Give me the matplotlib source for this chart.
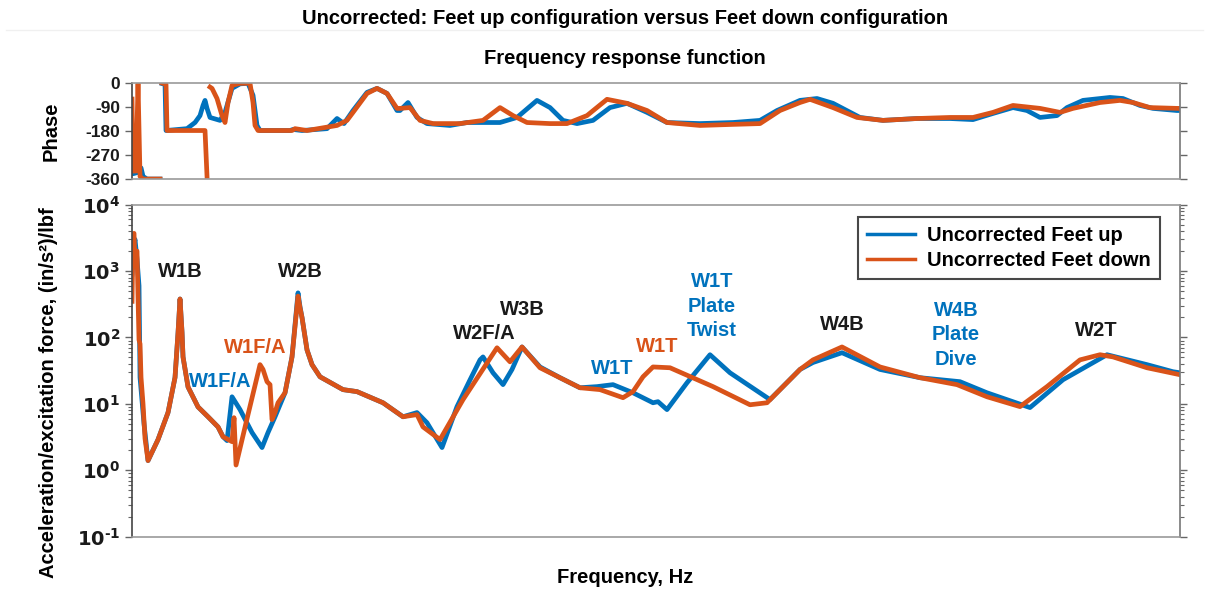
import numpy as np
import matplotlib
matplotlib.use("Agg")
import matplotlib.pyplot as plt
from matplotlib.ticker import FixedLocator, LogLocator, FuncFormatter, NullFormatter

nan = np.nan

# ---------------- data (frequency in arbitrary Hz units) ----------------
# Magnitude, feet up (blue)
mag_up_f = [0, 2, 3, 5, 7, 8, 12, 16, 26, 36, 43, 46, 48, 50, 51, 56, 66, 76, 86, 91, 95,
            100, 108, 120, 130, 136, 143, 153, 160, 166, 168, 170, 175, 180, 188, 211, 225,
            251, 271, 285, 295, 310, 325, 338, 348, 351, 361, 371, 380, 390, 408, 428, 448,
            465, 481, 501, 521, 526, 535, 555, 568, 578, 598, 638, 668, 681, 710, 748,
            788, 828, 855, 898, 931, 975, 1015, 1041, 1048]
mag_up_v = [900, 2500, 3000, 1500, 600, 25, 5, 1.4, 2.9, 7.4, 25, 117, 380, 120, 51, 18, 9,
            6.4, 4.5, 3.2, 2.8, 12.8, 8.2, 3.7, 2.2, 3.7, 6.4, 14.7, 51, 470, 290, 200, 65,
            39, 25.6, 16.4, 15.3, 10.4, 6.4, 7.4, 5.2, 2.2, 9.1, 23, 46, 51, 29.4, 19.5, 33,
            72, 36, 24.8, 17.5, 18.2, 19.5, 14.7, 10.4, 10.8, 8.2, 20.8, 36, 55, 29.4,
            11.6, 33, 42, 59, 33, 24.8, 21.6, 14.7, 8.8, 23.1, 55, 39, 30.5, 29.4]

# Magnitude, feet down (red)
mag_dn_f = [0, 1, 2, 3, 4, 5, 6, 7, 8, 9, 11, 13, 16, 26, 36, 43, 46, 48, 50, 51, 56, 66,
            76, 86, 91, 100, 102, 104, 116, 128, 131, 135, 138, 140, 143, 146, 153, 160,
            166, 168, 170, 175, 180, 188, 211, 225, 251, 271, 285, 291, 308, 331, 365, 378,
            390, 408, 448, 468, 491, 501, 511, 521, 538, 581, 618, 635, 668, 681, 710, 748,
            788, 825, 855, 888, 915, 948, 968, 981, 1015, 1048]
mag_dn_v = [350, 3500, 3700, 1200, 2000, 2000, 400, 92, 80, 25, 10, 3, 1.4, 2.9, 7.4, 25,
            117, 380, 120, 51, 18, 9, 6.4, 4.5, 3.2, 2.7, 6.2, 1.2, 6.9, 39, 33, 21.6, 19.5,
            5.8, 7.4, 10.4, 14.7, 51, 420, 280, 200, 65, 39, 25.6, 16.4, 15.3, 10.4, 6.4,
            6.9, 4.5, 2.9, 11.6, 70, 43, 72, 35, 17.5, 16.4, 12.4, 15.3, 25.6, 36, 35, 18.2,
            9.7, 10.4, 33, 46, 72, 36, 24.8, 19.5, 12.8, 9.1, 18.2, 46, 55, 51, 35, 27.5]

# Phase, feet up (blue)
ph_up_f = [0, 1, 6, 9, 11, 15, 28, 29, 30, 33, 34, 55, 63, 68, 71, 73, 75, 78, 88, 93, 100,
           108, 116, 121, 125, 128, 158, 161, 170, 195, 205, 212, 221, 235, 245, 255, 265,
           268, 276, 285, 295, 318, 335, 368, 385, 405, 418, 431, 445, 461, 478, 495, 515,
           535, 568, 601, 628, 645, 668, 685, 701, 728, 751, 785, 818, 841, 861, 881, 895,
           908, 925, 935, 951, 978, 991, 1008, 1021, 1045, 1048]
ph_up_v = [-200, -340, -335, -318, -350, -360, -360, nan, -2, -5, -178, -171, -148, -122,
           -84, -65, -95, -129, -140, -110, -20, -3, -1, -46, -159, -178, -178, -174, -178,
           -171, -133, -152, -103, -35, -20, -39, -103, -103, -73, -129, -152, -159, -148,
           -148, -129, -65, -92, -140, -152, -140, -92, -76, -110, -148, -152, -148, -140,
           -103, -65, -58, -76, -129, -140, -133, -133, -137, -114, -92, -103, -129, -122,
           -92, -65, -54, -58, -84, -95, -103, -103]

# Phase, feet down (red)
ph_dn_f = [0, 1, 4, 6, 8, 11, 28, 29, 30, 34, 35, 73, 75, 76, 78, 80, 85, 90, 93, 96, 100,
           108, 118, 121, 123, 126, 160, 163, 175, 205, 215, 221, 235, 245, 255, 265, 268,
           278, 288, 301, 328, 351, 368, 381, 395, 418, 435, 455, 475, 495, 515, 535, 568,
           601, 628, 648, 668, 678, 701, 725, 751, 785, 818, 841, 861, 881, 908, 928, 941,
           968, 988, 1001, 1018, 1045, 1048]
ph_dn_v = [-60, -330, -330, -2, -350, -360, -360, nan, 0, -5, -178, -178, -350, nan, -15,
           -20, -58, -122, -148, -73, -9, -1, -1, -73, -159, -178, -178, -171, -178, -159,
           -140, -110, -39, -20, -39, -95, -95, -92, -140, -152, -152, -140, -92, -122, -148,
           -152, -152, -122, -61, -76, -103, -148, -159, -155, -152, -103, -73, -61, -92,
           -129, -140, -133, -129, -129, -110, -84, -95, -110, -95, -73, -65, -73, -92, -95,
           -95]

series_labels = ["Uncorrected Feet up", "Uncorrected Feet down"]
phase_ticks = [0, -90, -180, -270, -360]

annotations = [
    ("W1B", 48, 1000, "black"),
    ("W2B", 168, 1000, "black"),
    ("W1F/A", 123, 70, "red"),
    ("W1F/A", 88, 22, "blue"),
    ("W2F/A", 352, 114, "black"),
    ("W3B", 390, 260, "black"),
    ("W1T", 480, 34, "blue"),
    ("W1T", 525, 72, "red"),
    ("W1T\nPlate\nTwist", 580, 297, "blue"),
    ("W4B", 710, 155, "black"),
    ("W4B\nPlate\nDive", 824, 110, "blue"),
    ("W2T", 964, 126, "black"),
]

BLUE = "#0072BD"
RED = "#D95319"
colors = {"blue": BLUE, "red": RED, "black": "#1a1a1a"}

plt.rcParams['font.family'] = ['Liberation Sans', 'DejaVu Sans']
plt.rcParams['font.weight'] = 'bold'

FS = 14.5

fig = plt.figure(figsize=(12.09, 5.89), dpi=100)
axp = fig.add_axes([0.1092, 0.696, 0.8668, 0.163])
axm = fig.add_axes([0.1092, 0.0888, 0.8668, 0.5637])

lw = 3.4
axp.plot(ph_up_f, ph_up_v, color=BLUE, lw=lw, solid_joinstyle='round')
axp.plot(ph_dn_f, ph_dn_v, color=RED, lw=lw, solid_joinstyle='round')
axm.semilogy(mag_up_f, mag_up_v, color=BLUE, lw=lw, label=series_labels[0], solid_joinstyle='round')
axm.semilogy(mag_dn_f, mag_dn_v, color=RED, lw=lw, label=series_labels[1], solid_joinstyle='round')

for ax in (axp, axm):
    ax.set_xlim(0, 1048)
    ax.set_xticks([])
    ax.spines['top'].set_color('#999999')
    ax.spines['bottom'].set_color('#999999')
    ax.spines['left'].set_color('#444444')
    ax.spines['right'].set_color('#777777')
    for s in ax.spines.values():
        s.set_linewidth(1.2)
    ax.tick_params(axis='y', which='both', direction='out', left=True, right=True,
                   colors='#666666', labelcolor='#1a1a1a')
    ax.tick_params(axis='y', which='major', length=5, width=1)
    ax.tick_params(axis='y', which='minor', length=3, width=0.8)

axp.set_ylim(-360, 0)
axp.yaxis.set_major_locator(FixedLocator(phase_ticks))
axp.set_yticklabels([str(t) for t in phase_ticks], fontweight='bold', fontsize=12.5)

axm.set_ylim(0.1, 1e4)
axm.yaxis.set_major_locator(LogLocator(base=10, numticks=10))
axm.yaxis.set_minor_locator(LogLocator(base=10, subs=np.arange(2, 10), numticks=20))
axm.yaxis.set_minor_formatter(NullFormatter())
axm.yaxis.set_major_formatter(FuncFormatter(
    lambda v, p: r'$\mathbf{10^{%s}}$' % (str(int(round(np.log10(v)))).replace('-', r'\text{-}'))))
axm.tick_params(axis='y', which='major', labelsize=14)

for txt, fx, fy, c in annotations:
    axm.text(fx, fy, txt, color=colors[c], ha='center', va='center', fontsize=FS,
             fontweight='bold', linespacing=1.38)

leg = axm.legend(loc='upper right', bbox_to_anchor=(0.981, 0.963), fontsize=FS,
                 frameon=True, fancybox=False, handlelength=2.4, borderpad=0.45,
                 labelspacing=0.3, handletextpad=0.6, borderaxespad=0)
leg.get_frame().set_edgecolor('#1a1a1a')
leg.get_frame().set_linewidth(1.5)
for t in leg.get_texts():
    t.set_fontweight('bold')
for l in leg.get_lines():
    l.set_linewidth(2.5)

fig.text(0.517, 0.968, "Uncorrected: Feet up configuration versus Feet down configuration",
         ha='center', va='center', fontsize=FS, fontweight='bold')
fig.text(0.517, 0.9015, "Frequency response function", ha='center', va='center',
         fontsize=FS, fontweight='bold')
fig.add_artist(plt.Line2D([0.005, 0.995], [0.949, 0.949], color='#f0f0f0', lw=1))

fig.text(0.042, 0.777, "Phase", rotation=90, ha='center', va='center', fontsize=FS,
         fontweight='bold')
fig.text(0.040, 0.334, "Acceleration/excitation force, (in/s²)/lbf", rotation=90,
         ha='center', va='center', fontsize=FS, fontweight='bold')
fig.text(0.517, 0.020, "Frequency, Hz", ha='center', va='center', fontsize=FS,
         fontweight='bold')

fig.savefig("out.png", dpi=100)
